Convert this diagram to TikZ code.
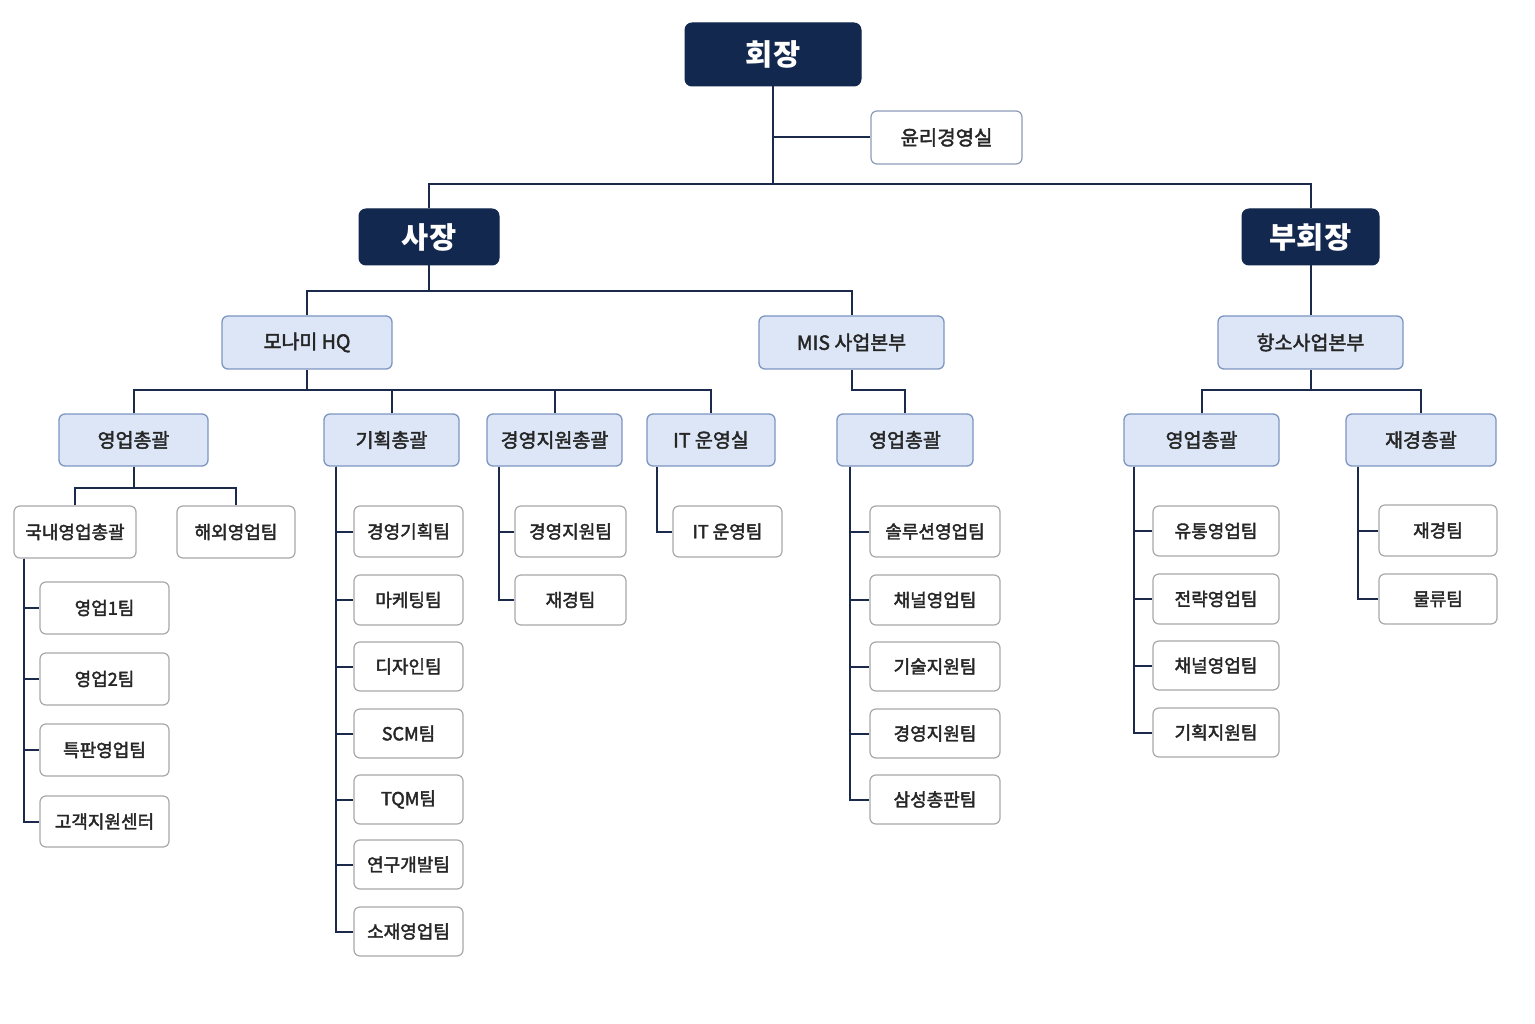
\documentclass[tikz,border=0pt]{standalone}
\usepackage{fontspec}
\setmainfont{Noto Sans CJK KR}
\newfontfamily\krmed{Noto Sans CJK KR}[FakeBold=2.2]
\definecolor{navy}{HTML}{13284F}
\definecolor{conn}{HTML}{1B2A4A}
\definecolor{midf}{HTML}{DCE6F6}
\definecolor{midb}{HTML}{7D96C2}
\definecolor{leafb}{HTML}{A8A8A8}
\definecolor{ethb}{HTML}{8C9CB8}
\tikzset{
  topbox/.style={draw=navy, fill=navy, text=white, rounded corners=7pt, line width=1pt, inner sep=0pt,
    font=\bfseries\fontsize{29.5}{32}\selectfont},
  midbox/.style={draw=midb, fill=midf, rounded corners=6pt, line width=1.3pt, inner sep=0pt,
    font=\krmed\fontsize{19.5}{22}\selectfont, text=black!85},
  leafbox/.style={draw=leafb, fill=white, rounded corners=6pt, line width=1.2pt, inner sep=0pt,
    font=\krmed\fontsize{18}{20}\selectfont, text=black!85},
  ethbox/.style={draw=ethb, fill=white, rounded corners=6pt, line width=1.2pt, inner sep=0pt,
    font=\krmed\fontsize{20}{22}\selectfont, text=black!85},
  link/.style={draw=conn, line width=2pt},
}
\newcommand\bx[7]{\node[#6, minimum width={#4-#2}, minimum height={#5-#3}] (#1) at ({(#2+#4)/2},{(#3+#5)/2}) {#7};}
\begin{document}
\begin{tikzpicture}[x=1pt,y=-1pt]
\fill[white] (0,0) rectangle (1535,1024);
\useasboundingbox (0,0) rectangle (1535,1024);
% top levels
\bx{chair}{685}{23}{861}{86}{topbox}{회장}
\bx{ethics}{871}{111}{1022}{164}{ethbox}{윤리경영실}
\bx{ceo}{359}{209}{499}{265}{topbox}{사장}
\bx{vice}{1242}{209}{1379}{265}{topbox}{부회장}
\bx{hq}{222}{316}{392}{369}{midbox}{모나미 HQ}
\bx{mis}{759}{316}{944}{369}{midbox}{MIS 사업본부}
\bx{hang}{1218}{316}{1403}{369}{midbox}{항소사업본부}
\bx{sa}{59}{414}{208}{466}{midbox}{영업총괄}
\bx{plan}{324}{414}{459}{466}{midbox}{기획총괄}
\bx{mgmt}{487}{414}{622}{466}{midbox}{경영지원총괄}
\bx{it}{647}{414}{775}{466}{midbox}{IT 운영실}
\bx{sb}{837}{414}{973}{466}{midbox}{영업총괄}
\bx{sc}{1124}{414}{1279}{466}{midbox}{영업총괄}
\bx{fin}{1346}{414}{1496}{466}{midbox}{재경총괄}
% leaves
\bx{dom}{14}{506}{136}{558}{leafbox}{국내영업총괄}
\bx{ovs}{177}{506}{295}{558}{leafbox}{해외영업팀}
\bx{da}{40}{582}{169}{634}{leafbox}{영업1팀}
\bx{db}{40}{653}{169}{705}{leafbox}{영업2팀}
\bx{dc}{40}{724}{169}{776}{leafbox}{특판영업팀}
\bx{dd}{40}{796}{169}{847}{leafbox}{고객지원센터}
\bx{pa}{354}{506}{463}{557}{leafbox}{경영기획팀}
\bx{pb}{354}{575}{463}{625}{leafbox}{마케팅팀}
\bx{pc}{354}{642}{463}{691}{leafbox}{디자인팀}
\bx{pd}{354}{709}{463}{758}{leafbox}{SCM팀}
\bx{pe}{354}{775}{463}{824}{leafbox}{TQM팀}
\bx{pf}{354}{840}{463}{889}{leafbox}{연구개발팀}
\bx{pg}{354}{907}{463}{956}{leafbox}{소재영업팀}
\bx{ma}{515}{506}{626}{557}{leafbox}{경영지원팀}
\bx{mb}{515}{575}{626}{625}{leafbox}{재경팀}
\bx{ia}{673}{506}{782}{557}{leafbox}{IT 운영팀}
\bx{ba}{870}{506}{1000}{557}{leafbox}{솔루션영업팀}
\bx{bb}{870}{575}{1000}{625}{leafbox}{채널영업팀}
\bx{bc}{870}{642}{1000}{691}{leafbox}{기술지원팀}
\bx{bd}{870}{709}{1000}{758}{leafbox}{경영지원팀}
\bx{be}{870}{775}{1000}{824}{leafbox}{삼성총판팀}
\bx{ca}{1153}{506}{1279}{556}{leafbox}{유통영업팀}
\bx{cb}{1153}{574}{1279}{624}{leafbox}{전략영업팀}
\bx{cc}{1153}{641}{1279}{690}{leafbox}{채널영업팀}
\bx{cd}{1153}{708}{1279}{757}{leafbox}{기획지원팀}
\bx{fa}{1379}{505}{1497}{556}{leafbox}{재경팀}
\bx{fb}{1379}{574}{1497}{624}{leafbox}{물류팀}
% connectors
\draw[link] (chair.south) -- (chair.south |- 0,184);
\draw[link] (chair.south |- ethics.west) -- (ethics.west);
\draw[link] (ceo.north) |- (chair.south |- 0,184);
\draw[link] (vice.north) |- (chair.south |- 0,184);
\draw[link] (ceo.south) -- (ceo.south |- 0,291);
\draw[link] (hq.north) |- (ceo.south |- 0,291);
\draw[link] (mis.north) |- (ceo.south |- 0,291);
\draw[link] (vice.south) -- (hang.north);
\draw[link] (hq.south) -- (hq.south |- 0,390);
\foreach \c in {sa,plan,mgmt,it} \draw[link] (\c.north) |- (hq.south |- 0,390);
\draw[link] (mis.south) -- (mis.south |- 0,390) -| (sb.north);
\draw[link] (hang.south) -- (hang.south |- 0,390);
\foreach \c in {sc,fin} \draw[link] (\c.north) |- (hang.south |- 0,390);
\draw[link] (sa.south) -- (sa.south |- 0,488);
\foreach \c in {dom,ovs} \draw[link] (\c.north) |- (sa.south |- 0,488);
\foreach \c in {da,db,dc,dd} \draw[link] (dom.south -| 24,0) |- (\c.west);
\foreach \c in {pa,pb,pc,pd,pe,pf,pg} \draw[link] (plan.south -| 336,0) |- (\c.west);
\foreach \c in {ma,mb} \draw[link] (mgmt.south -| 499,0) |- (\c.west);
\draw[link] (it.south -| 657,0) |- (ia.west);
\foreach \c in {ba,bb,bc,bd,be} \draw[link] (sb.south -| 850,0) |- (\c.west);
\foreach \c in {ca,cb,cc,cd} \draw[link] (sc.south -| 1134,0) |- (\c.west);
\foreach \c in {fa,fb} \draw[link] (fin.south -| 1358,0) |- (\c.west);
\end{tikzpicture}
\end{document}
